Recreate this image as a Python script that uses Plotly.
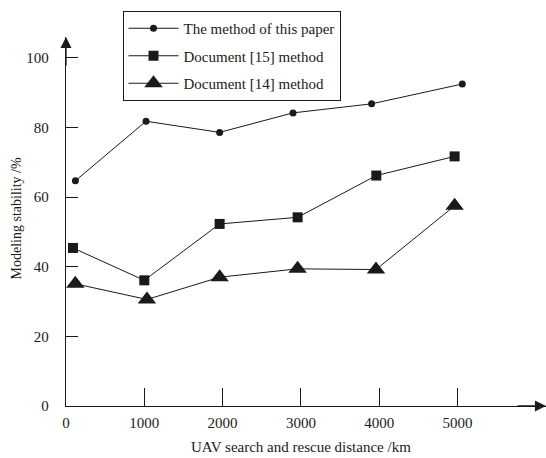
import plotly.graph_objects as go

# ---- data ----
series_names = ["The method of this paper", "Document [15] method", "Document [14] method"]
x_paper = [120, 1022, 1962, 2899, 3903, 5061]
y_paper = [64.7, 81.8, 78.6, 84.2, 86.8, 92.5]
x_doc15 = [89, 1000, 1962, 2958, 3963, 4963]
y_doc15 = [45.4, 36.1, 52.3, 54.2, 66.2, 71.7]
x_doc14 = [119, 1034, 1962, 2958, 3959, 4963]
y_doc14 = [35.1, 30.6, 37.0, 39.4, 39.2, 57.5]
x_ticks = [0, 1000, 2000, 3000, 4000, 5000]
y_ticks = [0, 20, 40, 60, 80, 100]
x_title = "UAV search and rescue distance /km"
y_title = "Modeling stability /%"

X_MAX = 6130
Y_MAX = 106.0
FONT = "Liberation Serif, Times New Roman, serif"
INK = "#1a1a1a"

# plot-area geometry in page pixels
L, R, T, B = 66, 0, 37, 52
W, H = 546, 458
PW, PH = W - L - R, H - T - B


def px_x(p):
    return (p - L) / PW


def px_y(p):
    return (H - B - p) / PH


fig = go.Figure()
fig.add_trace(go.Scatter(x=x_paper, y=y_paper, name=series_names[0], mode="lines+markers",
                         legendgroup="a",
                         line=dict(color=INK, width=1),
                         marker=dict(symbol="circle", size=7, color=INK)))
fig.add_trace(go.Scatter(x=x_doc15, y=y_doc15, name=series_names[1], mode="lines+markers",
                         legendgroup="b",
                         line=dict(color=INK, width=1),
                         marker=dict(symbol="square", size=10, color=INK)))
fig.add_trace(go.Scatter(x=x_doc14, y=y_doc14, name=series_names[2], mode="lines+markers",
                         legendgroup="c",
                         line=dict(color=INK, width=1),
                         marker=dict(symbol="triangle-up", size=16, color=INK)))

fig.update_layout(
    width=W, height=H,
    margin=dict(l=L, r=R, t=T, b=B, autoexpand=False),
    paper_bgcolor="white", plot_bgcolor="white",
    font=dict(family=FONT, size=15, color=INK),
    showlegend=True,
    legend=dict(x=px_x(122.5), y=px_y(11), xanchor="left", yanchor="top",
                bordercolor=INK, borderwidth=1, bgcolor="white",
                tracegroupgap=5, itemwidth=50,
                font=dict(family=FONT, size=15, color=INK)),
    xaxis=dict(range=[0, X_MAX], showgrid=False, zeroline=False,
               showline=True, linecolor=INK, linewidth=1.3,
               ticks="inside", ticklen=18, tickwidth=1, tickcolor=INK,
               tickvals=x_ticks, ticktext=[str(v) for v in x_ticks],
               ticklabelstandoff=3, tickfont=dict(size=15)),
    yaxis=dict(range=[0, Y_MAX], showgrid=False, zeroline=False,
               showline=True, linecolor=INK, linewidth=1.3,
               ticks="inside", ticklen=12, tickwidth=1, tickcolor=INK,
               tickvals=y_ticks, ticktext=[str(v) for v in y_ticks],
               ticklabelstandoff=13, tickfont=dict(size=15)),
)

# axis arrowheads
fig.add_annotation(x=0, y=Y_MAX, xref="x", yref="y", text="", showarrow=True,
                   ax=0, ay=30, arrowhead=2, arrowsize=1.7, arrowwidth=1.3, arrowcolor=INK)
fig.add_annotation(x=X_MAX, y=0, xref="x", yref="y", text="", showarrow=True,
                   ax=-30, ay=0, arrowhead=2, arrowsize=1.7, arrowwidth=1.3, arrowcolor=INK)

# axis titles
fig.add_annotation(x=px_x(300.5), y=px_y(447.3), xref="paper", yref="paper",
                   text=x_title, showarrow=False, xanchor="center", yanchor="middle",
                   font=dict(family=FONT, size=15, color=INK))
fig.add_annotation(x=px_x(15.5), y=px_y(219), xref="paper", yref="paper",
                   text=y_title, showarrow=False, textangle=-90, xanchor="center", yanchor="middle",
                   font=dict(family=FONT, size=14, color=INK))

fig.write_html("out.html", config={"displayModeBar": False},
               post_script="document.body.style.margin='0';document.body.style.overflow='hidden';")
